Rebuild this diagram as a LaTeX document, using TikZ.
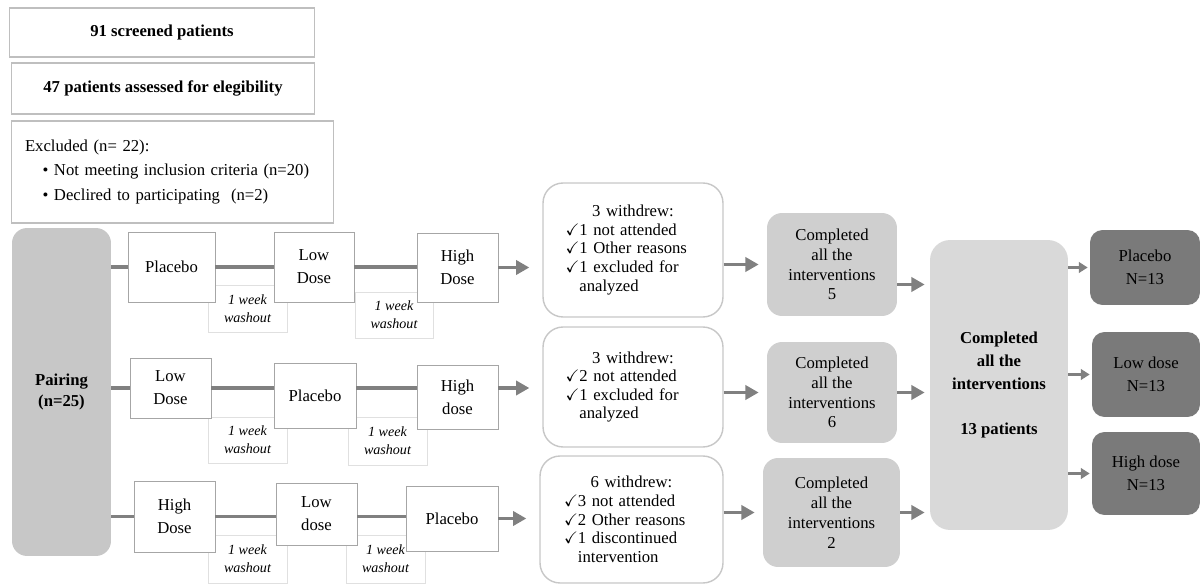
\documentclass[tikz,border=0pt]{standalone}
\usepackage{amssymb}
\usepackage{fontspec}
\setmainfont{Liberation Serif}
\usepackage{tikz}
\usetikzlibrary{arrows}
\usetikzlibrary{arrows.meta}
\usepackage{xcolor}
\newcommand{\chk}{$\checkmark$}
\newcommand{\chkgap}{\phantom{$\checkmark$}}
\newcommand{\wdtitle}[1]{\makebox[2.7cm]{#1}}

\begin{document}
\begin{tikzpicture}[x=0.02cm,y=-0.02cm]
\tikzstyle{every node}=[font=\fontsize{9.5}{13}\selectfont, inner sep=1pt]
\tikzstyle{topbox}=[draw=black!25, line width=0.6pt, font=\fontsize{9.5}{13}\selectfont\bfseries]
\tikzstyle{dose}=[draw=black!35, line width=0.5pt, fill=white, align=center]
\tikzstyle{wash}=[draw=black!12, line width=0.5pt, align=center, font=\fontsize{8}{10.2}\selectfont\itshape]
\tikzstyle{wdbox}=[draw=black!22, line width=0.8pt, rounded corners=0.4cm, fill=white, align=left, text width=2.7cm, font=\fontsize{9.5}{10.6}\selectfont]
\tikzstyle{done}=[fill=black!19, rounded corners=0.3cm, align=center, font=\fontsize{9.5}{11.3}\selectfont]
\tikzstyle{res}=[fill=black!52, rounded corners=0.25cm, align=center]
\tikzstyle{link}=[draw=black!50, line width=1.8pt]
\tikzstyle{arr}=[draw=black!50, line width=1.8pt, -{Triangle[length=7.5pt,width=8pt]}]
\tikzstyle{sarr}=[draw=black!50, line width=1.5pt, -{Triangle[length=5pt,width=6pt]}]
\useasboundingbox (0,0) rectangle (1201,584);

\node[topbox, minimum width=6.12cm, minimum height=0.98cm] (scr) at (162,32.5) {91 screened patients};
\node[topbox, minimum width=6.08cm, minimum height=1.02cm] (ass) at (163,88.5) {47 patients assessed for elegibility};
\node[draw=black!25, line width=0.6pt, minimum width=6.46cm, minimum height=2.04cm, text width=5.9cm, align=left, font=\fontsize{9.5}{14}\selectfont] (exc) at (172.5,172)
  {Excluded (n= 22):\\ \hspace*{10pt}\textbullet{} Not meeting inclusion criteria (n=20)\\ \hspace*{10pt}\textbullet{} Declired to participating\ \ (n=2)};

\node[fill=black!22, rounded corners=0.3cm, minimum width=1.98cm, minimum height=6.56cm, align=center, font=\fontsize{9.5}{12.5}\selectfont\bfseries] (pair) at (61.5,392) {Pairing\\(n=25)};

% washout periods
\node[wash, minimum width=1.58cm, minimum height=0.94cm] (w1a) at (247.5,308.5) {1 week\\washout};
\node[wash, minimum width=1.56cm, minimum height=0.92cm] (w1b) at (394,315) {1 week\\washout};
\node[wash, minimum width=1.58cm, minimum height=0.92cm] (w2a) at (247.5,440) {1 week\\washout};
\node[wash, minimum width=1.58cm, minimum height=0.96cm] (w2b) at (387.5,441) {1 week\\washout};
\node[wash, minimum width=1.58cm, minimum height=0.96cm] (w3a) at (247.5,559) {1 week\\washout};
\node[wash, minimum width=1.58cm, minimum height=0.96cm] (w3b) at (385.5,559) {1 week\\washout};

% sequences
\node[dose, minimum width=1.74cm, minimum height=1.40cm] (p1) at (171.5,267) {Placebo};
\node[dose, minimum width=1.60cm, minimum height=1.40cm] (l1) at (314,267) {Low\\Dose};
\node[dose, minimum width=1.62cm, minimum height=1.38cm] (h1) at (457.5,267.5) {High\\Dose};
\node[dose, minimum width=1.62cm, minimum height=1.20cm] (l2) at (170.5,388) {Low\\Dose};
\node[dose, minimum width=1.64cm, minimum height=1.30cm] (p2) at (315,395.5) {Placebo};
\node[dose, minimum width=1.62cm, minimum height=1.28cm] (h2) at (457.5,397) {High\\dose};
\node[dose, minimum width=1.62cm, minimum height=1.42cm] (h3) at (174.5,516.5) {High\\Dose};
\node[dose, minimum width=1.62cm, minimum height=1.24cm] (l3) at (316.5,514) {Low\\dose};
\node[dose, minimum width=1.84cm, minimum height=1.30cm] (p3) at (452,518.5) {Placebo};

\node[wdbox, minimum width=3.60cm, minimum height=2.68cm] (wd1) at (633,250)
  {\wdtitle{3 withdrew:}\\ \chk1 not attended\\ \chk1 Other reasons\\ \chk1 excluded for\\ \chkgap analyzed};
\node[wdbox, minimum width=3.60cm, minimum height=2.40cm] (wd2) at (633,387)
  {\wdtitle{3 withdrew:}\\ \chk2 not attended\\ \chk1 excluded for\\ \chkgap analyzed};
\node[wdbox, minimum width=3.66cm, minimum height=2.54cm] (wd3) at (631.5,519.5)
  {\wdtitle{6 withdrew:}\\ \chk3 not attended\\ \chk2 Other reasons\\ \chk1 discontinued\\ \chkgap intervention};

\node[done, minimum width=2.60cm, minimum height=2.06cm] (c1) at (832,264.5) {Completed\\all the\\interventions\\5};
\node[done, minimum width=2.60cm, minimum height=2.02cm] (c2) at (832,392.5) {Completed\\all the\\interventions\\6};
\node[done, minimum width=2.74cm, minimum height=2.18cm] (c3) at (831.5,512.5) {Completed\\all the\\interventions\\2};

\node[fill=black!15, rounded corners=0.4cm, minimum width=2.76cm, minimum height=5.80cm, align=center, font=\fontsize{9.5}{13}\selectfont\bfseries] (big) at (999,385)
  {Completed\\all the\\interventions\\[13pt]13 patients};

\node[res, minimum width=2.20cm, minimum height=1.50cm] (rp) at (1145,267.5) {Placebo\\N=13};
\node[res, minimum width=2.16cm, minimum height=1.70cm] (rl) at (1146,374.5) {Low dose\\N=13};
\node[res, minimum width=2.16cm, minimum height=1.66cm] (rh) at (1146,473.5) {High dose\\N=13};

\path (pair.east |- p1.west) edge[link] (p1.west);
\path (p1.east) edge[link] (p1.east -| l1.west);
\path (l1.east) edge[link] (l1.east -| h1.west);
\path (pair.east |- l2.west) edge[link] (l2.west);
\path (l2.east) edge[link] (l2.east -| p2.west);
\path (l2.east -| p2.east) edge[link] (l2.east -| h2.west);
\path (pair.east |- h3.west) edge[link] (h3.west);
\path (h3.east) edge[link] (h3.east -| l3.west);
\path (h3.east -| l3.east) edge[link] (h3.east -| p3.west);

\path (h1.east) edge[arr, shorten >=0.26cm] (h1.east -| wd1.west);
\path (l2.east -| h2.east) edge[arr, shorten >=0.26cm] (l2.east -| wd2.west);
\path (p3.east) edge[arr, shorten >=0.26cm] (p3.east -| wd3.west);

\path (wd1.east |- c1.west) edge[arr, shorten >=0.16cm] (c1.west);
\path (wd2.east |- c2.west) edge[arr, shorten >=0.16cm] (c2.west);
\path (wd3.east |- c3.west) edge[arr, shorten >=0.16cm] (c3.west);

\path ([yshift=-0.4cm]c1.east) edge[arr, shorten >=0.1cm] ([yshift=-0.4cm]c1.east -| big.west);
\path (c2.east) edge[arr, shorten >=0.1cm] (c2.east -| big.west);
\path (c3.east) edge[arr, shorten >=0.1cm] (c3.east -| big.west);

\path (big.east |- rp.west) edge[sarr, shorten >=0.04cm] (rp.west);
\path (big.east |- rl.west) edge[sarr, shorten >=0.04cm] (rl.west);
\path (big.east |- rh.west) edge[sarr, shorten >=0.04cm] (rh.west);
\end{tikzpicture}
\end{document}
